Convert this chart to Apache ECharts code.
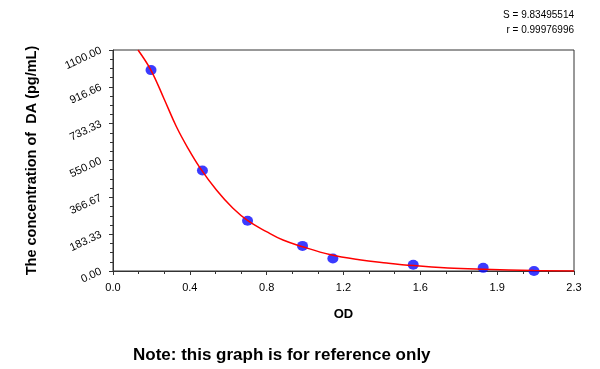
<!DOCTYPE html>
<html><head><meta charset="utf-8">
<script src="https://cdn.jsdelivr.net/npm/echarts@6/dist/echarts.min.js"></script>
<style>html,body{margin:0;padding:0;background:#fff}#c{width:600px;height:369px}</style>
</head><body><div id="c"></div>
<script>
var pointOD = [0.193, 0.454, 0.683, 0.962, 1.116, 1.524, 1.879, 2.137];
var pointConc = [1000, 500, 250, 125, 62.5, 31.25, 15.6, 0];
var curveOD = [0.127, 0.193, 0.26, 0.322, 0.38, 0.44, 0.525, 0.609, 0.686, 0.779, 0.863, 0.962, 1.10, 1.25, 1.389, 1.524, 1.70, 1.879, 2.137, 2.34];
var curveConc = [1100, 999, 855, 718, 612, 516, 403, 312, 249, 196, 154, 121, 82, 56, 40, 27, 15, 8.5, 2, 0];
var xTickLabels = ['0.0', '0.4', '0.8', '1.2', '1.6', '1.9', '2.3'];
var yTickLabels = ['0.00', '183.33', '366.67', '550.00', '733.33', '916.66', '1100.00'];
var statLines = ['S = 9.83495514', 'r = 0.99976996'];

var xInt = 0.39, yInt = 1100 / 6;
var FONT = 'Liberation Sans, Arial, sans-serif';
var chart = echarts.init(document.getElementById('c'), null, {renderer: 'canvas'});
chart.setOption({
  animation: false,
  backgroundColor: '#fff',
  grid: {left: 113, right: 26, top: 50, bottom: 98, show: true, borderColor: '#333', borderWidth: 1},
  xAxis: {
    type: 'value', min: 0, max: xInt * 6, interval: xInt,
    name: 'OD', nameLocation: 'middle', nameGap: 37,
    nameTextStyle: {fontFamily: FONT, fontSize: 13, fontWeight: 'bold', color: '#000'},
    axisLine: {lineStyle: {color: '#333'}},
    axisTick: {length: 4, lineStyle: {color: '#333'}},
    minorTick: {show: true, splitNumber: 3, length: 3, lineStyle: {color: '#333'}},
    splitLine: {show: false},
    axisLabel: {fontFamily: FONT, fontSize: 11, color: '#000', margin: 11,
      formatter: function (v) { return xTickLabels[Math.round(v / xInt)]; }}
  },
  yAxis: {
    type: 'value', min: 0, max: 1100, interval: yInt,
    name: 'The concentration of  DA (pg/mL)', nameLocation: 'middle', nameGap: 74,
    nameTextStyle: {fontFamily: FONT, fontSize: 14.5, fontWeight: 'bold', color: '#000'},
    axisLine: {show: true, lineStyle: {color: '#333'}},
    axisTick: {show: true, length: 4, lineStyle: {color: '#333'}},
    minorTick: {show: true, splitNumber: 4, length: 3, lineStyle: {color: '#333'}},
    splitLine: {show: false},
    axisLabel: {fontFamily: FONT, fontSize: 11, color: '#000', rotate: 25, margin: 12,
      formatter: function (v) { return yTickLabels[Math.round(v / yInt)]; }}
  },
  series: [
    {type: 'line', data: curveOD.map(function (x, i) { return [x, curveConc[i]]; }),
     smooth: 0.4, showSymbol: false, lineStyle: {color: '#ff0000', width: 1.5}, z: 2},
    {type: 'scatter', data: pointOD.map(function (x, i) { return [x, pointConc[i]]; }),
     symbol: 'circle', symbolSize: [11, 10], itemStyle: {color: '#0a0aff'}, z: 1}
  ],
  graphic: [
    {type: 'text', right: 26, top: 10, style: {text: statLines[0], fontFamily: FONT, fontSize: 10, fill: '#000'}},
    {type: 'text', right: 26, top: 25, style: {text: statLines[1], fontFamily: FONT, fontSize: 10, fill: '#000'}},
    {type: 'text', left: 133, top: 347, style: {text: 'Note: this graph is for reference only', fontFamily: FONT, fontSize: 17, fontWeight: 'bold', fill: '#000'}}
  ]
});
</script></body></html>
